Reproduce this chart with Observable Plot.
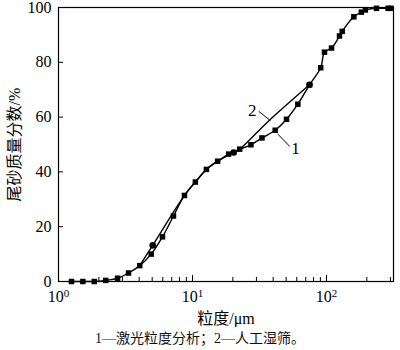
<!DOCTYPE html>
<html><head><meta charset="utf-8">
<script src="https://cdn.jsdelivr.net/npm/d3@7"></script>
<script src="https://cdn.jsdelivr.net/npm/@observablehq/plot@0.6"></script>
<style>
body{margin:0;background:#fff;}
#cap{width:400px;text-align:center;font-family:"Liberation Serif","Noto Sans CJK SC",serif;font-size:14px;line-height:24px;color:#111;}
</style></head><body>
<div id="chart"></div>
<div id="cap">1—激光粒度分析；2—人工湿筛。</div>
<script>
// Series 1: laser particle size analysis (squares)
const laserSize = [1.25,1.52,1.85,2.25,2.76,3.33,4.04,4.92,5.97,7.21,8.71,10.5,12.7,15.4,18.6,22.5,27.3,33.0,41.4,50.3,61.1,74.7,90.5,96.6,109,125,131,160,182,195,236,288,303];
const laserPct  = [0,0,0,0.4,1.2,3.1,5.8,10.0,16.3,23.9,31.4,36.3,40.9,43.9,46.5,48.3,49.9,52.4,55.2,59.2,64.7,71.8,78.0,83.7,85.2,89.6,91.3,96.6,98.3,99.1,99.7,99.7,99.7];
// Series 2: manual wet sieving (curve + circles)
const sieveLineSize = [4.04,5.05,8.71,10.5,12.7,15.4,20.3,22.5,37,74.7];
const sieveLinePct  = [5.8,13.2,31.4,36.3,40.9,43.9,47.1,48.3,58.6,71.8];
const sieveDotSize = [5.05,20.3,74.7];
const sieveDotPct  = [13.2,47.1,71.8];
// Curve labels and leader lines
const labelText = ["2","1"];
const labelX = [27.9,58.7];
const labelY = [62.3,48.7];
const leaderX1 = [31.2,43.3], leaderY1 = [62.1,53.8];
const leaderX2 = [38.2,53.2], leaderY2 = [58.7,49.3];
// Axis ticks
const xMajor = [1,10,100];
const xMinor = [2,3,4,5,6,7,8,9,20,30,40,50,60,70,80,90,200,300];
const yTicks = [0,20,40,60,80,100];
const xExp = ["0","1","2"];

const laser = laserSize.map((x,i)=>({x, y: laserPct[i]}));
const sieveLine = sieveLineSize.map((x,i)=>({x, y: sieveLinePct[i]}));
const sieveDots = sieveDotSize.map((x,i)=>({x, y: sieveDotPct[i]}));
const labels = labelText.map((t,i)=>({t, x: labelX[i], y: labelY[i]}));
const leaders = labelText.map((t,i)=>({x1: leaderX1[i], y1: leaderY1[i], x2: leaderX2[i], y2: leaderY2[i]}));

const font = '"Liberation Serif","Noto Sans CJK SC",serif';
const plot = Plot.plot({
  width: 400, height: 327,
  marginTop: 7, marginLeft: 58, marginRight: 7, marginBottom: 46,
  style: {fontFamily: font, fontSize: "16px", color: "#000", background: "#fff"},
  x: {type: "log", domain: [1, Math.pow(10, 2.5)]},
  y: {domain: [0, 100]},
  marks: [
    Plot.frame({stroke: "#000", strokeWidth: 1.2}),
    Plot.axisX({ticks: xMinor, tickSize: -4, tickFormat: () => "", strokeWidth: 1, label: null}),
    Plot.axisX({ticks: xMajor, tickSize: -6, tickPadding: 15, fontSize: 16, tickFormat: d => "10",
      label: "粒度/μm", labelAnchor: "center", labelArrow: "none", labelOffset: 42, strokeWidth: 1}),
    Plot.axisY({ticks: yTicks, tickSize: -5, tickPadding: 12, fontSize: 16,
      label: "尾砂质量分数/%", labelAnchor: "center", labelArrow: "none", labelOffset: 50, strokeWidth: 1}),
    Plot.line(sieveLine, {x: "x", y: "y", curve: "catmull-rom", stroke: "#000", strokeWidth: 1.4}),
    Plot.line(laser, {x: "x", y: "y", curve: "catmull-rom", stroke: "#000", strokeWidth: 1.4}),
    Plot.dot(laser, {x: "x", y: "y", symbol: "square", r: 3.1, fill: "#000", stroke: "none"}),
    Plot.dot(sieveDots, {x: "x", y: "y", symbol: "circle", r: 3.3, fill: "#000", stroke: "none"}),
    Plot.link(leaders, {x1: "x1", y1: "y1", x2: "x2", y2: "y2", stroke: "#000", strokeWidth: 1}),
    Plot.text(labels, {x: "x", y: "y", text: "t", fontSize: 17, fill: "#000", fontFamily: font})
  ]
});
document.getElementById("chart").appendChild(plot);
// superscript exponents on major x tick labels
const xl = Array.from(plot.querySelectorAll('g[aria-label="x-axis tick label"] text'))
  .filter(t => t.textContent === "10");
xl.forEach((t, i) => {
  const e = document.createElementNS("http://www.w3.org/2000/svg", "tspan");
  e.setAttribute("dy", "-0.45em");
  e.setAttribute("font-size", "11");
  e.textContent = xExp[i];
  t.appendChild(e);
});
</script>
</body></html>
